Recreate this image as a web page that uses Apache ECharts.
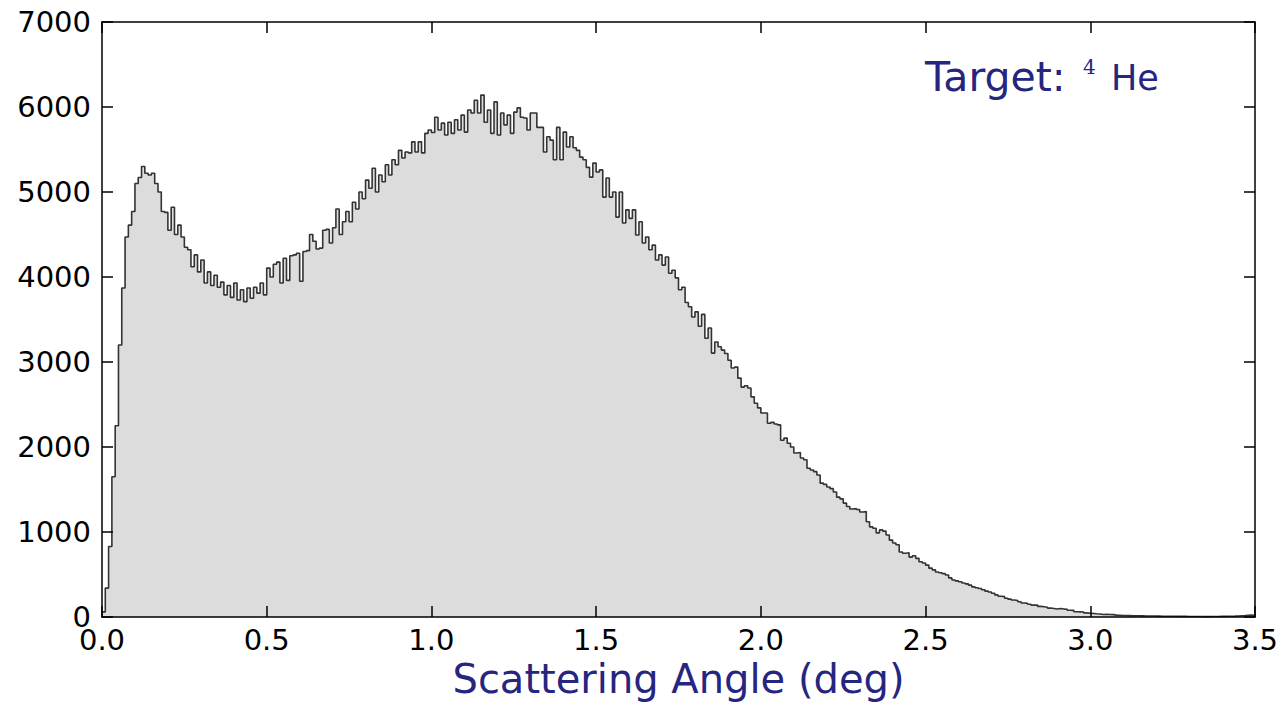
<!DOCTYPE html>
<html>
<head>
<meta charset="utf-8">
<script src="https://cdn.jsdelivr.net/npm/echarts@6/dist/echarts.min.js"></script>
<style>
html,body{margin:0;padding:0;background:#fff;}
#chart{width:1283px;height:705px;}
</style>
</head>
<body>
<div id="chart"></div>
<script>
// Histogram: bin width and counts per bin (bins start at 0.00 deg)
const binWidth = 0.01;
const counts = [
  60, 340, 830, 1650, 2250, 3200, 3870, 4470, 4610, 4770,
  5100, 5170, 5300, 5220, 5200, 5220, 5100, 5000, 4770, 4760,
  4550, 4820, 4500, 4610, 4470, 4350, 4320, 4120, 4260, 4060,
  4200, 3930, 4060, 3900, 4020, 3880, 3940, 3790, 3900, 3760,
  3930, 3730, 3850, 3710, 3870, 3750, 3880, 3810, 3930, 3790,
  4105, 4000, 4150, 4175, 3930, 4220, 3960, 4250, 4260, 4280,
  3950, 4300, 4310, 4500, 4420, 4330, 4340, 4550, 4560, 4400,
  4580, 4800, 4500, 4650, 4770, 4650, 4880, 4800, 5000, 4920,
  5140, 5045, 5280, 5000, 5200, 5120, 5320, 5200, 5380, 5320,
  5490, 5400, 5470, 5460, 5590, 5470, 5590, 5460, 5690, 5730,
  5700, 5880, 5730, 5810, 5670, 5820, 5690, 5850, 5730, 5905,
  5705, 5965, 5930, 6080, 5930, 6140, 5820, 5965, 5690, 6060,
  5670, 5930, 5790, 5905, 5690, 5940, 5990, 5880, 5870, 5730,
  5930, 5930, 5760, 5760, 5470, 5650, 5610, 5380, 5760, 5380,
  5705, 5530, 5650, 5520, 5490, 5410, 5380, 5290, 5175, 5340,
  5235, 5260, 4940, 5165, 4940, 5000, 4705, 5000, 4635, 4790,
  4690, 4790, 4495, 4650, 4400, 4470, 4320, 4375, 4200, 4260,
  4140, 4235, 4045, 4080, 3990, 3850, 3880, 3700, 3650, 3530,
  3590, 3420, 3560, 3280, 3400, 3105, 3235, 3180, 3140, 3100,
  3020, 2930, 2940, 2810, 2705, 2720, 2695, 2590, 2515, 2460,
  2400, 2400, 2280, 2290, 2270, 2260, 2080, 2105, 2045, 2000,
  1930, 1935, 1870, 1850, 1750, 1730, 1710, 1670, 1575, 1560,
  1530, 1510, 1470, 1410, 1390, 1340, 1300, 1270, 1275, 1265,
  1235, 1240, 1120, 1060, 1045, 990, 1025, 1010, 965, 905,
  870, 850, 765, 750, 755, 705, 720, 690, 650, 635,
  610, 575, 555, 530, 520, 510, 495, 460, 435, 425,
  415, 400, 390, 375, 355, 345, 335, 320, 305, 295,
  280, 260, 245, 240, 220, 210, 200, 195, 180, 165,
  160, 150, 140, 140, 125, 120, 115, 105, 100, 95,
  100, 95, 90, 80, 78, 62, 60, 58, 48, 45,
  42, 38, 35, 30, 32, 30, 28, 22, 20, 18,
  17, 16, 15, 14, 14, 13, 12, 12, 11, 10,
  10, 9, 9, 8, 8, 8, 7, 7, 7, 6,
  6, 6, 6, 5, 5, 5, 5, 6, 6, 7,
  7, 8, 9, 10, 12, 14, 16, 20, 22, 18
];
const xRange = [0, 3.5];
const xTickStep = 0.5;
const yRange = [0, 7000];
const yTickStep = 1000;
const xTitle = 'Scattering Angle (deg)';
const annoMain = 'Target:';
const annoSup = '4';
const annoElem = 'He';

// Step-histogram points at bin left edges, plus closing right edge
const stepData = counts.map((c, i) => [i * binWidth, c]);
stepData.push([counts.length * binWidth, counts[counts.length - 1]]);

const FONT = 'DejaVu Sans';
const NAVY = '#262680';
const mkLine = () => ({ show: true, onZero: false, lineStyle: { color: '#000', width: 1.5 } });
const mkTick = () => ({ show: true, inside: true, length: 11, lineStyle: { color: '#000', width: 1.5 } });

const chart = echarts.init(document.getElementById('chart'), null, { renderer: 'svg' });
chart.setOption({
  animation: false,
  backgroundColor: '#fff',
  grid: { left: 102, right: 28, top: 22, bottom: 88, containLabel: false },
  xAxis: [{
    type: 'value', min: xRange[0], max: xRange[1], interval: xTickStep,
    position: 'bottom', z: 5,
    axisLine: mkLine(), axisTick: mkTick(), splitLine: { show: false },
    axisLabel: { color: '#000', fontFamily: FONT, fontSize: 29, lineHeight: 22, margin: 12,
      formatter: v => v.toFixed(1) },
    name: xTitle, nameLocation: 'middle', nameGap: 40,
    nameTextStyle: { color: NAVY, fontFamily: FONT, fontSize: 40 }
  }, {
    type: 'value', min: xRange[0], max: xRange[1], interval: xTickStep,
    position: 'top', z: 5,
    axisLine: mkLine(), axisTick: mkTick(), splitLine: { show: false },
    axisLabel: { show: false }
  }],
  yAxis: [{
    type: 'value', min: yRange[0], max: yRange[1], interval: yTickStep,
    position: 'left', z: 5,
    axisLine: mkLine(), axisTick: mkTick(), splitLine: { show: false },
    axisLabel: { color: '#000', fontFamily: FONT, fontSize: 29, lineHeight: 22, margin: 11,
      formatter: v => String(v) }
  }, {
    type: 'value', min: yRange[0], max: yRange[1], interval: yTickStep,
    position: 'right', z: 5,
    axisLine: mkLine(), axisTick: mkTick(), splitLine: { show: false },
    axisLabel: { show: false }
  }],
  series: [{
    type: 'line',
    xAxisIndex: 0, yAxisIndex: 0,
    data: stepData,
    step: 'end',
    symbol: 'none',
    z: 2,
    lineStyle: { color: '#333', width: 1.6 },
    areaStyle: { color: '#dcdcdc', opacity: 1, origin: 'start' }
  }],
  graphic: [
    { type: 'text', left: 925, top: 56, z: 10,
      style: { text: annoMain, fill: NAVY, font: '41px "DejaVu Sans"' } },
    { type: 'text', left: 1083, top: 57, z: 10,
      style: { text: annoSup, fill: NAVY, font: '20px "DejaVu Serif"' } },
    { type: 'text', left: 1111, top: 60, z: 10,
      style: { text: annoElem, fill: NAVY, font: '35px "DejaVu Sans"' } }
  ]
});
</script>
</body>
</html>
